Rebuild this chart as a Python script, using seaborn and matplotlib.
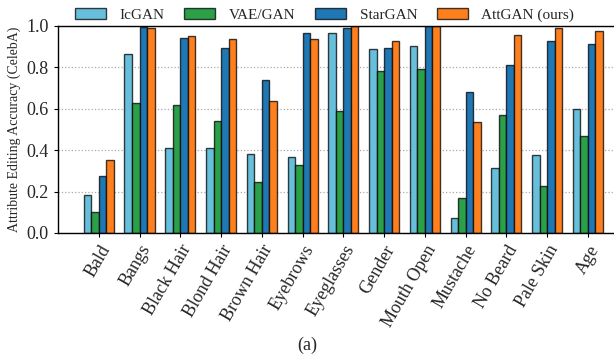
import pandas as pd
import matplotlib.pyplot as plt
import seaborn as sns

# Attribute editing accuracy
attributes = ["Bald", "Bangs", "Black Hair", "Blond Hair", "Brown Hair", "Eyebrows",
              "Eyeglasses", "Gender", "Mouth Open", "Mustache", "No Beard", "Pale Skin", "Age"]
methods = ["IcGAN", "VAE/GAN", "StarGAN", "AttGAN (ours)"]

icgan = [0.185, 0.865, 0.41, 0.41, 0.38, 0.365, 0.965, 0.89, 0.905, 0.07, 0.315, 0.375, 0.60]
vaegan = [0.10, 0.63, 0.62, 0.54, 0.245, 0.33, 0.59, 0.78, 0.79, 0.17, 0.57, 0.225, 0.47]
stargan = [0.275, 0.997, 0.94, 0.895, 0.74, 0.965, 0.99, 0.895, 1.0, 0.68, 0.81, 0.925, 0.915]
attgan = [0.35, 0.99, 0.95, 0.935, 0.635, 0.935, 1.0, 0.925, 1.0, 0.535, 0.955, 0.99, 0.975]

colors = ["#67bfdc", "#2ca048", "#1f77b4", "#fd7f1e"]

rows = []
for m, vals in zip(methods, [icgan, vaegan, stargan, attgan]):
    for a, v in zip(attributes, vals):
        rows.append({"attribute": a, "method": m, "acc": v})
df = pd.DataFrame(rows)

sns.set_style("ticks")
plt.rcParams["font.family"] = ["Liberation Serif", "DejaVu Serif"]

fig = plt.figure(figsize=(6.14, 3.6), dpi=100)
ax = fig.add_axes([0.0945, 0.353, 0.9055, 0.575])

sns.barplot(data=df, x="attribute", y="acc", hue="method", order=attributes,
            hue_order=methods, palette=colors, width=0.74, saturation=1,
            edgecolor=(0, 0, 0, 0.75), linewidth=1.0, ax=ax)

ax.set_xlim(-1.0, 12.64)
ax.set_ylim(0, 1.0)
ax.set_yticks([0.0, 0.2, 0.4, 0.6, 0.8, 1.0])
ax.yaxis.grid(True, linestyle=":", color="#aaaaaa", linewidth=0.9)
ax.set_axisbelow(True)
ax.spines["right"].set_visible(False)
for s in ["left", "bottom", "top"]:
    ax.spines[s].set_color("black")
    ax.spines[s].set_linewidth(1.0)

ax.set_xlabel("")
ax.set_ylabel("Attribute Editing Accuracy (CelebA)", fontsize=10)
ax.tick_params(axis="both", labelsize=13, length=3, color="black")
plt.setp(ax.get_xticklabels(), rotation=60, ha="right", rotation_mode="anchor")

ax.legend(loc="lower left", bbox_to_anchor=(0.02, 0.99), ncol=4, frameon=False,
          fontsize=11, handlelength=2.0, handleheight=0.8, columnspacing=1.3,
          borderaxespad=0, handletextpad=0.9)

fig.text(0.5, 0.04, "(a)", ha="center", va="center", fontsize=13)

plt.savefig("out.png", dpi=100)
plt.close()
